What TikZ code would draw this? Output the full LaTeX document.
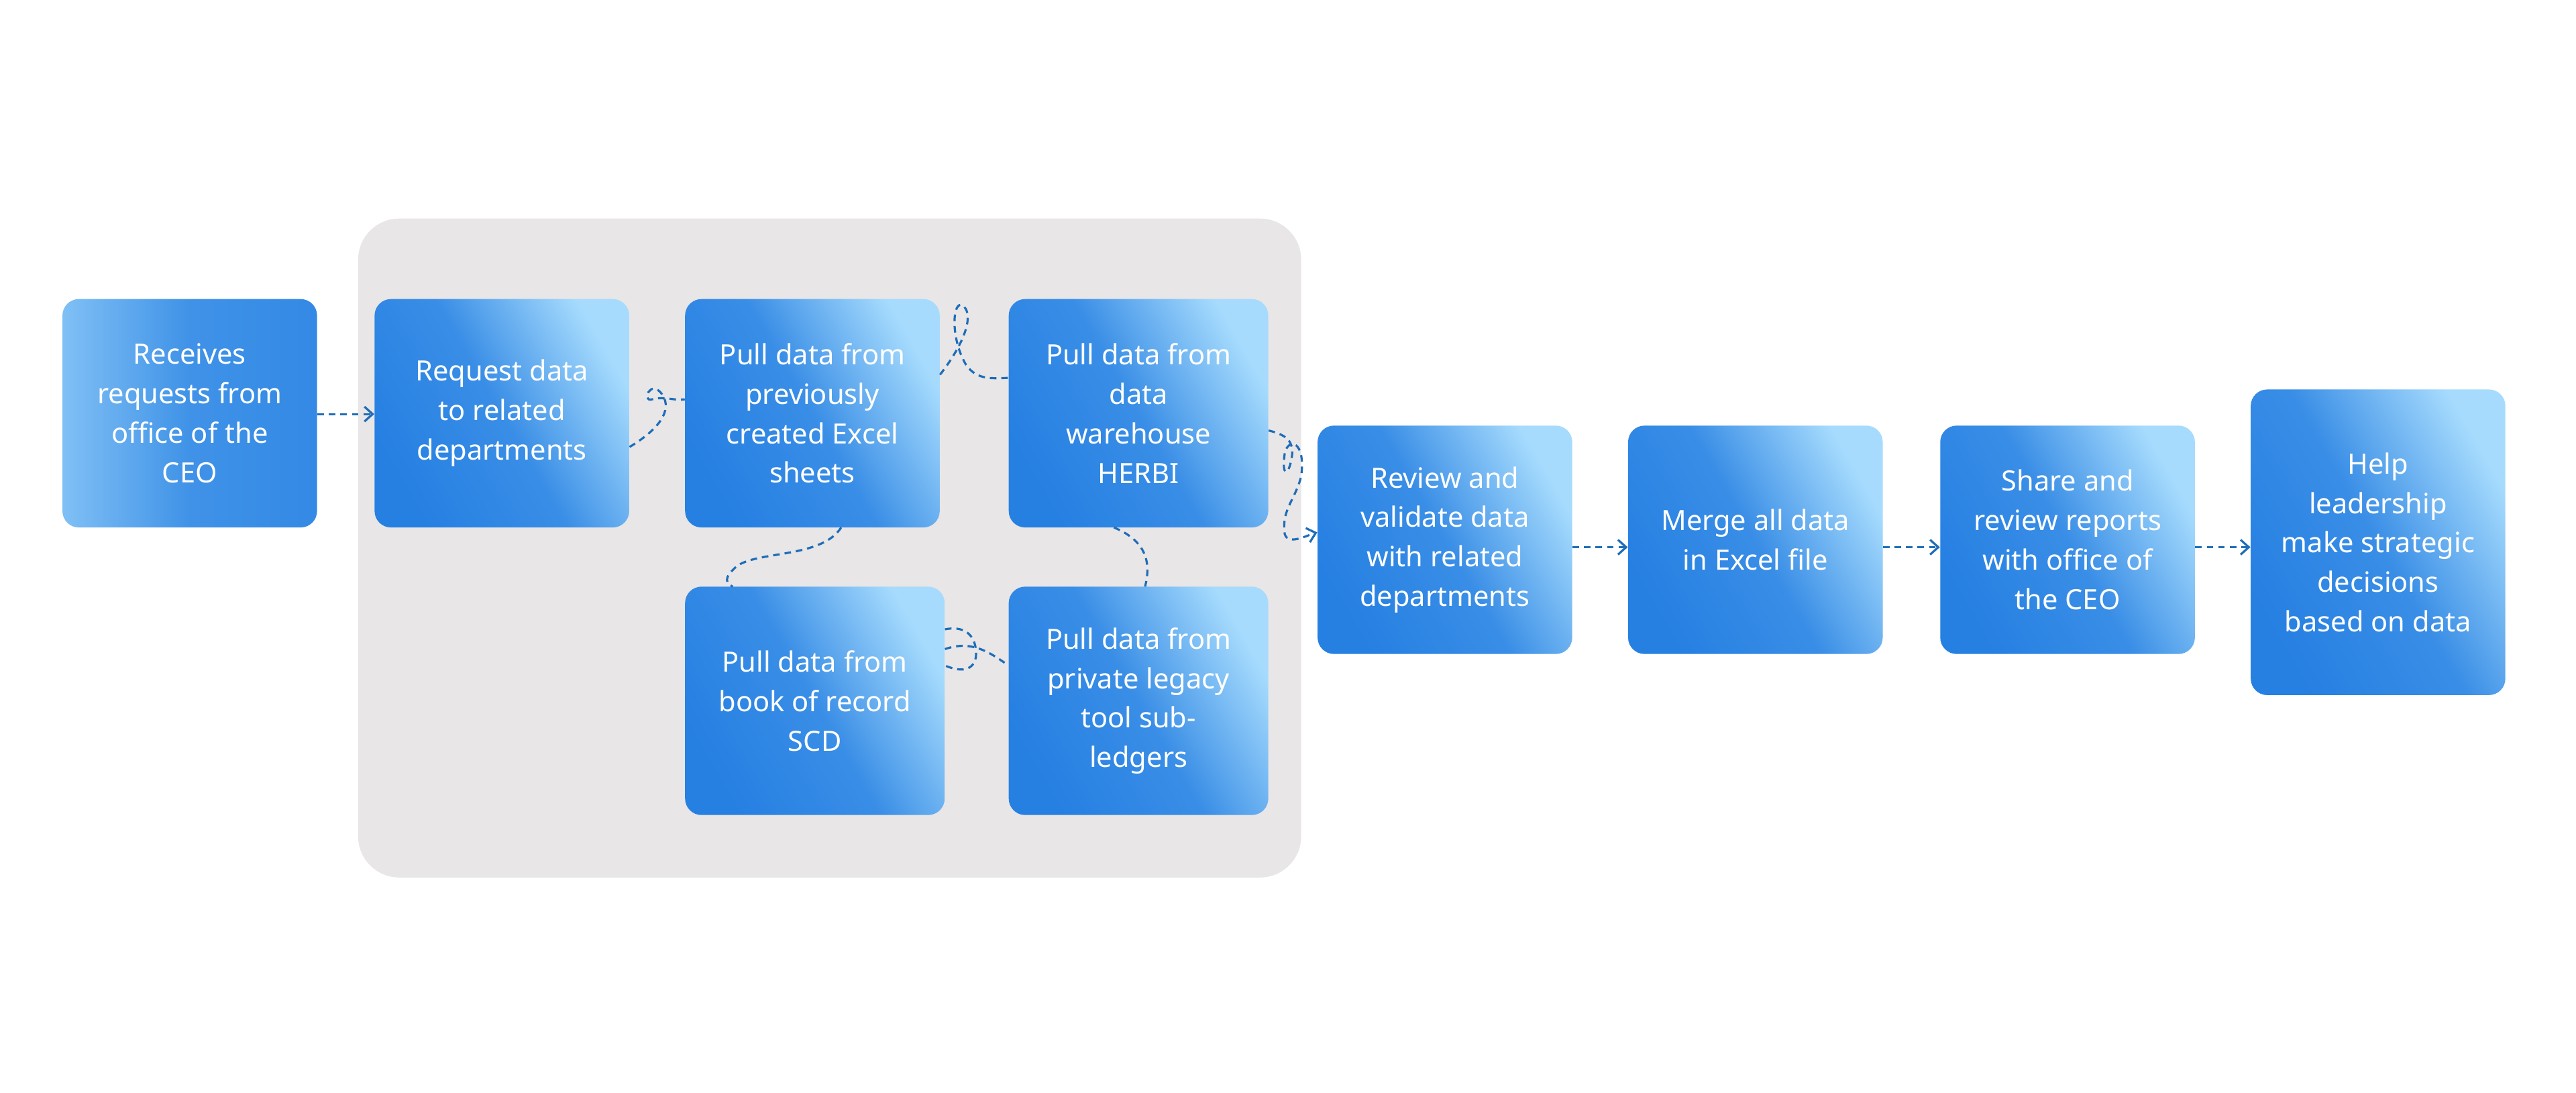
\documentclass[tikz,border=0pt]{standalone}
\usepackage{fontspec}
\setmainfont{Noto Sans}
\usepackage{tikz}
\usetikzlibrary{arrows.meta}
\usetikzlibrary{positioning}
\definecolor{stepblue}{HTML}{2680E2}
\definecolor{steplight}{HTML}{A6DBFD}
\definecolor{linkblue}{HTML}{1E6DB8}
\definecolor{panelgray}{HTML}{E8E6E7}
\tikzset{
    task/.style={
        rounded corners=10pt,
        left color=steplight,
        right color=stepblue,
        middle color=stepblue!85!steplight,
        shading angle=-60,
        text=white,
        align=center,
        inner sep=0pt,
        font=\fontsize{17}{24}\selectfont
    },
    link/.style={
        draw=linkblue,
        line width=1.3pt,
        dash pattern=on 4pt off 3pt
    },
    every edge/.style={
        link,
        -{Straight Barb[length=5pt, width=9pt]}
    }
}
\begin{document}
\begin{tikzpicture}[x=1pt, y=-1pt]
    \useasboundingbox (0,0) rectangle (1568,665);
    % Panel
    \fill[panelgray, rounded corners=25pt] (218,133) rectangle (792,534);
    
    % Steps
    \node[task, minimum width=155pt, minimum height=139pt, left color=steplight!70!stepblue, right color=stepblue!90!steplight, middle color=stepblue!80!steplight] (recv) at (115.5,251.5) {Receives\\requests from\\office of the\\CEO};
    \node[task, minimum width=155pt, minimum height=139pt] (req) at (305.5,251.5) {Request data\\to related\\departments};
    \node[task, minimum width=155pt, minimum height=139pt] (excel) at (494.5,251.5) {Pull data from\\previously\\created Excel\\sheets};
    \node[task, minimum width=158pt, minimum height=139pt] (herbi) at (693,251.5) {Pull data from\\data\\warehouse\\HERBI};
    \node[task, minimum width=158pt, minimum height=139pt] (scd) at (496,426.5) {Pull data from\\book of record\\SCD};
    \node[task, minimum width=158pt, minimum height=139pt] (legacy) at (693,426.5) {Pull data from\\private legacy\\tool sub-\\ledgers};
    \node[task, minimum width=155pt, minimum height=139pt] (review) at (879.5,328.5) {Review and\\validate data\\with related\\departments};
    \node[task, minimum width=155pt, minimum height=139pt] (merge) at (1068.5,328.5) {Merge all data\\in Excel file};
    \node[task, minimum width=155pt, minimum height=139pt] (share) at (1258.5,328.5) {Share and\\review reports\\with office of\\the CEO};
    \node[task, minimum width=155pt, minimum height=186pt] (help) at (1447.5,330) {Help\\leadership\\make strategic\\decisions\\based on data};
    
    % Links
    \draw (recv.east |- 0,252) edge (req.west |- 0,252);
    \draw[link] (req.east |- 0,272) .. controls (400,262) and (410,250) .. (403,240)
        .. controls (396,230) and (390,245) .. (397,243) .. controls (405,241) and (410,244) .. (excel.west |- 0,243);
    \draw[link] (excel.east |- 0,228) .. controls (590,205) and (592,190) .. (586,186)
        .. controls (580,182) and (578,205) .. (588,222) .. controls (595,232) and (605,230) .. (herbi.west |- 0,230);
    \draw[link] (512,321) .. controls (500,340) and (460,335) .. (448,345)
        .. controls (440,352) and (442,355) .. (446,357);
    \draw[link] (678,321) .. controls (700,330) and (700,345) .. (697,357);
    \draw[link] (scd.east |- 0,383) .. controls (590,380) and (595,390) .. (594,400)
        .. controls (592,410) and (582,408) .. (scd.east |- 0,405);
    \draw[link] (scd.east |- 0,395) .. controls (590,390) and (600,395) .. (legacy.west |- 0,405);
    \draw[link, -{Straight Barb[length=5pt, width=9pt]}] (herbi.east |- 0,262) .. controls (785,265) and (788,270) .. (786,280)
        .. controls (784,290) and (780,290) .. (782,276) .. controls (784,266) and (795,268) .. (792,290)
        .. controls (788,305) and (780,310) .. (782,325) .. controls (784,332) and (795,326) .. (review.west |- 0,324);
    \draw (review.east |- 0,333) edge (merge.west |- 0,333);
    \draw (merge.east |- 0,333) edge (share.west |- 0,333);
    \draw (share.east |- 0,333) edge (help.west |- 0,333);
    
\end{tikzpicture}
\end{document}
